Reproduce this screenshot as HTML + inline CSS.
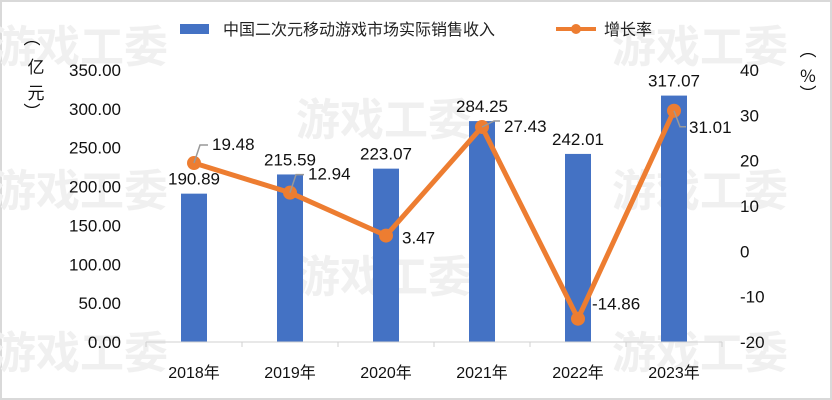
<!DOCTYPE html>
<html><head><meta charset="utf-8"><style>
body{margin:0;background:#fff;}
svg{display:block;font-family:"Liberation Sans","Noto Sans CJK SC",sans-serif;}
</style></head><body>
<svg width="832" height="400" id="c">
<rect x="1" y="1" width="830" height="398" fill="#fff" stroke="#d9d9d9" stroke-width="2"/>
<g fill="#f0f0f0" font-size="44" font-weight="bold" font-family="'Noto Sans CJK SC',sans-serif">
<text x="-8" y="62">游戏工委</text><text x="612" y="62">游戏工委</text>
<text x="296" y="135">游戏工委</text>
<text x="-8" y="206">游戏工委</text><text x="612" y="206">游戏工委</text>
<text x="296" y="292">游戏工委</text>
<text x="-8" y="368">游戏工委</text><text x="612" y="368">游戏工委</text>
</g>
<g>
<rect x="180" y="24" width="29" height="10" fill="#4472c4"/>
<text x="223" y="35" font-size="16" fill="#222">中国二次元移动游戏市场实际销售收入</text>
<line x1="556" y1="29" x2="596" y2="29" stroke="#ed7d31" stroke-width="4"/>
<circle cx="576" cy="29" r="5" fill="#ed7d31"/>
<text x="604" y="35" font-size="16" fill="#222">增长率</text>
</g>
<g font-size="17" fill="#111" font-family="'Noto Sans CJK SC',sans-serif">
<text x="32" y="44" text-anchor="middle">︵</text><text x="36" y="73" text-anchor="middle">亿</text><text x="36" y="99" text-anchor="middle">元</text><text x="32" y="118" text-anchor="middle">︶</text>
</g>
<g font-size="17" fill="#111" font-family="'Noto Sans CJK SC',sans-serif">
<text x="808" y="56" text-anchor="middle">︵</text><text x="808" y="82" text-anchor="middle">%</text><text x="808" y="100" text-anchor="middle">︶</text>
</g>
<g id="plot"></g>
</svg>
<script>
const categories=["2018年","2019年","2020年","2021年","2022年","2023年"];
const revenue=[190.89,215.59,223.07,284.25,242.01,317.07];
const growth=[19.48,12.94,3.47,27.43,-14.86,31.01];
const leftTicks=[0,50,100,150,200,250,300,350];
const rightTicks=[-20,-10,0,10,20,30,40];
const NS="http://www.w3.org/2000/svg";
const g=document.getElementById('plot');
const X0=146,X1=722,Y0=342,Y1=70;
const bw=(X1-X0)/categories.length;
const xc=i=>X0+bw*(i+0.5);
const yL=v=>Y0-(v/350)*(Y0-Y1);
const yR=v=>Y0-((v+20)/60)*(Y0-Y1);
function el(t,a,txt){const e=document.createElementNS(NS,t);for(const k in a)e.setAttribute(k,a[k]);if(txt!=null)e.textContent=txt;g.appendChild(e);return e;}
leftTicks.forEach(v=>{const e=el('text',{x:121,y:yL(v)+6,'text-anchor':'end','font-size':17,fill:'#111'},v.toFixed(2));

});
rightTicks.forEach(v=>{const e=el('text',{x:740,y:yR(v)+6,'font-size':17,fill:'#111'},String(v));

});
revenue.forEach((v,i)=>{const r=el('rect',{x:xc(i)-13,y:yL(v),width:26,height:Y0-yL(v),fill:'#4472c4'});


const t=el('text',{x:xc(i),y:yL(v)-9,'text-anchor':'middle','font-size':17,fill:'#111'},v.toFixed(2));

});
const ax=el('line',{x1:X0,y1:Y0,x2:X1,y2:Y0,stroke:'#d0d0d0','stroke-width':1});


for(let i=0;i<=categories.length;i++){const tk=el('line',{x1:X0+bw*i,y1:Y0,x2:X0+bw*i,y2:Y0+5,stroke:'#d0d0d0'});

}
categories.forEach((c,i)=>{const t=el('text',{x:xc(i),y:378,'text-anchor':'middle','font-size':16,fill:'#111'},c);

});
const pts=growth.map((v,i)=>xc(i)+','+yR(v)).join(' ');
const pl=el('polyline',{points:pts,fill:'none',stroke:'#ed7d31','stroke-width':5,'stroke-linejoin':'round'});


growth.forEach((v,i)=>{const x=xc(i),y=yR(v);
const c=el('circle',{cx:x,cy:y,r:7,fill:'#ed7d31'});


let lx,ly;
if(i===0||i===1){el('polyline',{points:`${x},${y} ${x+6},${y-18} ${x+14},${y-18}`,fill:'none',stroke:'#999','stroke-width':1.5});lx=x+18;ly=y-13;}
else if(i===3){el('polyline',{points:`${x},${y} ${x+12},${y-6} ${x+18},${y-6}`,fill:'none',stroke:'#999','stroke-width':1.5});lx=x+22;ly=y+5;}
else if(i===5){el('polyline',{points:`${x},${y} ${x+6},${y+16} ${x+12},${y+16}`,fill:'none',stroke:'#999','stroke-width':1.5});lx=x+15;ly=y+22;}
else if(i===4){lx=x+14;ly=y-9;}
else {lx=x+16;ly=y+8;}
const t=el('text',{x:lx,y:ly,'font-size':17,fill:'#111'},v.toFixed(2));

});
</script>
</body></html>
